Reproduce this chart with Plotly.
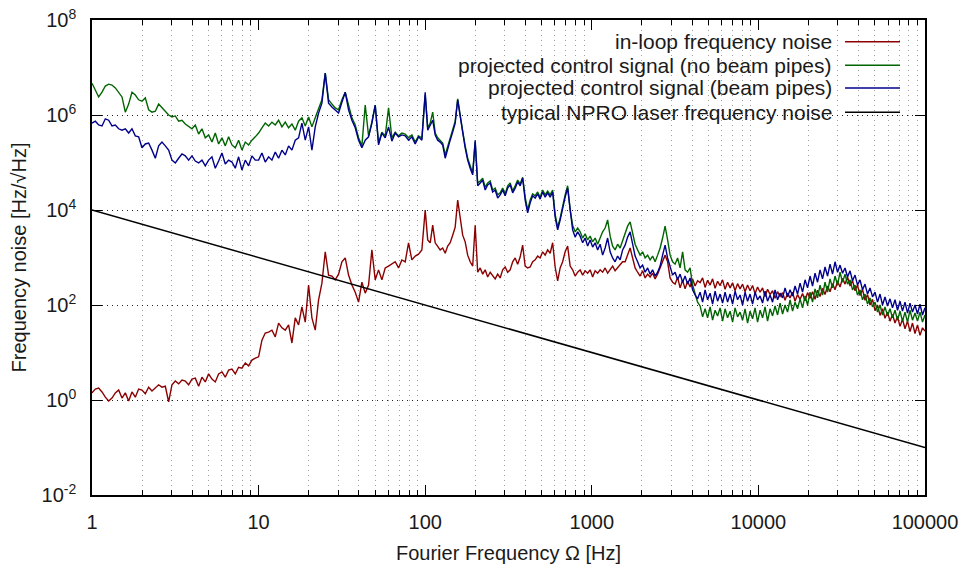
import plotly.graph_objects as go

# log10 of Fourier frequency [Hz]
freq_exp = [
    0.00, 0.02, 0.04, 0.06, 0.08, 0.10, 0.12, 0.14, 0.16, 0.18,
    0.20, 0.22, 0.24, 0.26, 0.28, 0.30, 0.32, 0.34, 0.36, 0.38,
    0.40, 0.42, 0.44, 0.46, 0.48, 0.50, 0.52, 0.54, 0.56, 0.58,
    0.60, 0.62, 0.64, 0.66, 0.68, 0.70, 0.72, 0.74, 0.76, 0.78,
    0.80, 0.82, 0.84, 0.86, 0.88, 0.90, 0.92, 0.94, 0.96, 0.98,
    1.00, 1.02, 1.04, 1.06, 1.08, 1.10, 1.12, 1.14, 1.16, 1.18,
    1.20, 1.22, 1.24, 1.26, 1.28, 1.30, 1.32, 1.34, 1.36, 1.38,
    1.40, 1.42, 1.44, 1.46, 1.48, 1.50, 1.52, 1.54, 1.56, 1.58,
    1.60, 1.62, 1.64, 1.66, 1.68, 1.70, 1.72, 1.74, 1.76, 1.78,
    1.80, 1.82, 1.84, 1.86, 1.88, 1.90, 1.92, 1.94, 1.96, 1.98,
    2.000, 2.015, 2.030, 2.045, 2.060, 2.075, 2.090, 2.105, 2.120, 2.135,
    2.150, 2.165, 2.180, 2.195, 2.210, 2.225, 2.240, 2.255, 2.270, 2.285,
    2.300, 2.315, 2.330, 2.345, 2.360, 2.375, 2.390, 2.405, 2.420, 2.435,
    2.450, 2.465, 2.480, 2.495, 2.510, 2.525, 2.540, 2.555, 2.570, 2.585,
    2.600, 2.615, 2.630, 2.645, 2.660, 2.675, 2.690, 2.705, 2.720, 2.735,
    2.750, 2.765, 2.780, 2.795, 2.810, 2.825, 2.840, 2.855, 2.870, 2.885,
    2.900, 2.915, 2.930, 2.945, 2.960, 2.975, 2.990, 3.005, 3.020, 3.035,
    3.050, 3.065, 3.080, 3.095, 3.110, 3.125, 3.140, 3.155, 3.170, 3.185,
    3.200, 3.215, 3.230, 3.245, 3.260, 3.275, 3.290, 3.305, 3.320, 3.335,
    3.350, 3.365, 3.380, 3.395, 3.410, 3.425, 3.440, 3.455, 3.470, 3.485,
    3.500, 3.515, 3.530, 3.545, 3.560, 3.575, 3.590, 3.605, 3.620, 3.635,
    3.650, 3.665, 3.680, 3.695, 3.710, 3.725, 3.740, 3.755, 3.770, 3.785,
    3.800, 3.815, 3.830, 3.845, 3.860, 3.875, 3.890, 3.905, 3.920, 3.935,
    3.950, 3.965, 3.980, 3.995, 4.010, 4.025, 4.040, 4.055, 4.070, 4.085,
    4.100, 4.115, 4.130, 4.145, 4.160, 4.175, 4.190, 4.205, 4.220, 4.235,
    4.250, 4.265, 4.280, 4.295, 4.310, 4.325, 4.340, 4.355, 4.370, 4.385,
    4.400, 4.415, 4.430, 4.445, 4.460, 4.475, 4.490, 4.505, 4.520, 4.535,
    4.550, 4.565, 4.580, 4.595, 4.610, 4.625, 4.640, 4.655, 4.670, 4.685,
    4.700, 4.715, 4.730, 4.745, 4.760, 4.775, 4.790, 4.805, 4.820, 4.835,
    4.850, 4.865, 4.880, 4.895, 4.910, 4.925, 4.940, 4.955, 4.970, 4.985,
    5.000,
]

# log10 of frequency noise [Hz/sqrt(Hz)]
inloop_exp = [
    0.15, 0.23, 0.25, 0.17, 0.06, -0.02, 0.04, 0.15, 0.21, 0.04,
    0.15, -0.02, 0.17, 0.06, 0.23, 0.21, 0.13, 0.27, 0.19, 0.25,
    0.32, 0.27, 0.29, -0.04, 0.32, 0.40, 0.34, 0.42, 0.40, 0.32,
    0.44, 0.46, 0.29, 0.48, 0.38, 0.55, 0.44, 0.38, 0.55, 0.59,
    0.48, 0.63, 0.65, 0.55, 0.69, 0.67, 0.78, 0.72, 0.84, 0.88,
    0.91, 1.26, 1.41, 1.43, 1.47, 1.33, 1.62, 1.52, 1.47, 1.58,
    1.20, 1.73, 1.58, 1.96, 1.64, 2.42, 1.73, 1.47, 2.11, 2.46,
    3.12, 2.63, 2.61, 2.53, 2.65, 2.91, 2.99, 2.63, 2.42, 2.27,
    2.06, 2.48, 2.25, 2.42, 3.16, 2.53, 2.74, 2.53, 2.78, 2.82,
    2.86, 2.91, 2.78, 2.95, 2.91, 3.31, 2.95, 3.03, 3.07, 3.16,
    4.00, 3.37, 3.31, 3.68, 3.31, 3.22, 3.16, 3.20, 3.09, 3.24,
    3.31, 3.47, 3.64, 4.21, 3.79, 3.47, 3.33, 3.05, 2.91, 2.82,
    3.68, 2.69, 2.78, 2.65, 2.74, 2.59, 2.69, 2.61, 2.55, 2.65,
    2.57, 2.74, 2.80, 2.69, 2.74, 2.91, 2.99, 2.86, 3.01, 3.26,
    2.82, 2.78, 2.80, 2.91, 2.95, 3.03, 2.99, 3.12, 3.05, 3.16,
    3.09, 3.31, 2.80, 2.51, 2.78, 2.91, 3.12, 3.24, 2.82, 2.74,
    2.61, 2.69, 2.74, 2.63, 2.72, 2.67, 2.74, 2.59, 2.72, 2.67,
    2.74, 2.69, 2.78, 2.67, 2.74, 2.82, 2.72, 2.78, 2.86, 2.91,
    2.91, 3.05, 3.20, 2.99, 2.78, 2.69, 2.61, 2.72, 2.57, 2.65,
    2.59, 2.67, 2.55, 2.65, 2.78, 2.91, 3.05, 2.91, 2.57, 2.48,
    2.44, 2.58, 2.36, 2.52, 2.34, 2.50, 2.38, 2.55, 2.40, 2.51,
    2.47, 2.57, 2.37, 2.52, 2.42, 2.55, 2.35, 2.50, 2.41, 2.53,
    2.33, 2.48, 2.36, 2.47, 2.30, 2.45, 2.34, 2.44, 2.28, 2.42,
    2.30, 2.41, 2.24, 2.38, 2.27, 2.36, 2.18, 2.33, 2.22, 2.30,
    2.14, 2.28, 2.18, 2.26, 2.10, 2.25, 2.15, 2.27, 2.08, 2.22,
    2.12, 2.24, 2.09, 2.26, 2.14, 2.28, 2.12, 2.31, 2.18, 2.35,
    2.22, 2.40, 2.28, 2.45, 2.32, 2.50, 2.38, 2.56, 2.44, 2.59,
    2.40, 2.52, 2.30, 2.42, 2.20, 2.33, 2.10, 2.22, 2.00, 2.12,
    1.88, 2.00, 1.78, 1.92, 1.72, 1.85, 1.66, 1.80, 1.62, 1.76,
    1.55, 1.70, 1.50, 1.66, 1.44, 1.62, 1.40, 1.58, 1.36, 1.52,
    1.45,
]

no_pipes_exp = [
    6.67, 6.53, 6.38, 6.48, 6.61, 6.65, 6.63, 6.57, 6.48, 6.38,
    6.06, 6.23, 6.48, 6.42, 6.32, 6.29, 6.36, 6.11, 6.06, 6.08,
    6.23, 6.15, 6.08, 6.00, 5.96, 5.98, 5.87, 5.89, 5.81, 5.75,
    5.71, 5.79, 5.60, 5.71, 5.52, 5.58, 5.43, 5.62, 5.39, 5.52,
    5.35, 5.54, 5.37, 5.31, 5.47, 5.26, 5.43, 5.37, 5.47, 5.54,
    5.62, 5.73, 5.83, 5.77, 5.85, 5.79, 5.89, 5.75, 5.85, 5.73,
    5.81, 5.68, 5.87, 5.94, 5.77, 5.96, 5.75, 5.94, 6.11, 6.32,
    6.88, 6.32, 6.23, 6.15, 6.11, 6.32, 6.48, 6.23, 5.94, 5.79,
    5.52, 5.35, 6.21, 5.56, 5.85, 6.21, 5.41, 5.64, 5.56, 6.15,
    5.52, 5.64, 5.56, 5.62, 5.60, 5.52, 5.58, 5.43, 5.56, 5.52,
    6.42, 5.73, 5.83, 6.06, 5.62, 5.52, 5.47, 5.41, 5.16, 5.35,
    5.52, 5.68, 5.87, 6.34, 5.96, 5.66, 5.35, 5.09, 4.93, 4.78,
    5.43, 4.57, 4.61, 4.67, 4.48, 4.57, 4.61, 4.42, 4.46, 4.32,
    4.36, 4.46, 4.34, 4.51, 4.57, 4.40, 4.51, 4.63, 4.55, 4.69,
    4.27, 4.00, 4.21, 4.34, 4.30, 4.38, 4.27, 4.42, 4.32, 4.40,
    4.32, 4.42, 3.91, 3.64, 3.83, 4.11, 4.32, 4.51, 4.00, 3.68,
    3.54, 3.62, 3.54, 3.41, 3.50, 3.37, 3.45, 3.33, 3.41, 3.28,
    3.41, 3.54, 3.62, 3.79, 3.45, 3.24, 3.16, 3.28, 3.20, 3.37,
    3.54, 3.66, 3.75, 3.50, 3.28, 3.16, 3.05, 3.12, 2.99, 3.05,
    2.95, 3.03, 2.91, 3.05, 3.20, 3.41, 3.66, 3.37, 3.05, 2.91,
    2.86, 2.99, 2.78, 3.12, 2.74, 2.69, 2.78, 2.42, 2.21, 2.06,
    1.98, 1.75, 1.92, 1.73, 1.96, 1.68, 1.89, 1.77, 1.94, 1.66,
    1.92, 1.73, 1.87, 1.64, 1.94, 1.75, 1.85, 1.68, 1.92, 1.62,
    1.87, 1.71, 1.94, 1.64, 1.89, 1.73, 1.96, 1.66, 1.92, 1.77,
    1.98, 1.79, 2.04, 1.81, 2.00, 1.85, 2.11, 1.87, 2.06, 1.92,
    2.13, 1.94, 2.19, 2.00, 2.27, 2.06, 2.34, 2.15, 2.42, 2.21,
    2.48, 2.27, 2.55, 2.36, 2.61, 2.42, 2.69, 2.48, 2.65, 2.44,
    2.53, 2.32, 2.42, 2.21, 2.32, 2.11, 2.23, 2.02, 2.15, 1.96,
    2.06, 1.85, 2.00, 1.79, 1.96, 1.77, 1.92, 1.73, 1.89, 1.68,
    1.87, 1.66, 1.85, 1.64, 1.89, 1.68, 1.83, 1.66, 1.85, 1.64,
    1.79,
]

pipes_exp = [
    5.83, 5.87, 5.79, 5.77, 5.92, 5.89, 5.77, 5.79, 5.71, 5.68,
    5.71, 5.62, 5.71, 5.56, 5.54, 5.31, 5.39, 5.41, 5.26, 5.09,
    5.35, 5.43, 5.35, 5.26, 5.05, 4.99, 5.09, 5.18, 5.14, 5.05,
    5.14, 5.03, 4.99, 5.05, 4.93, 5.05, 5.12, 4.88, 5.03, 5.20,
    4.97, 5.05, 5.01, 4.88, 5.12, 4.84, 5.05, 4.93, 5.14, 5.05,
    5.05, 5.20, 5.01, 5.12, 5.05, 5.22, 5.09, 5.26, 5.16, 5.35,
    5.26, 5.47, 5.52, 5.83, 5.47, 5.75, 5.26, 5.75, 6.04, 6.25,
    6.88, 6.25, 6.17, 6.11, 6.04, 6.27, 6.48, 6.11, 5.89, 5.73,
    5.47, 5.31, 5.47, 5.54, 5.83, 6.21, 5.37, 5.62, 5.52, 5.75,
    5.45, 5.62, 5.54, 5.58, 5.56, 5.47, 5.54, 5.39, 5.54, 5.47,
    6.48, 5.68, 5.79, 5.89, 5.58, 5.47, 5.43, 5.37, 5.09, 5.31,
    5.47, 5.64, 5.83, 6.32, 5.94, 5.64, 5.31, 5.05, 4.88, 4.74,
    5.47, 4.51, 4.57, 4.63, 4.42, 4.53, 4.57, 4.38, 4.42, 4.25,
    4.32, 4.42, 4.30, 4.46, 4.53, 4.36, 4.46, 4.59, 4.51, 4.67,
    4.21, 3.94, 4.15, 4.30, 4.25, 4.34, 4.23, 4.38, 4.27, 4.36,
    4.27, 4.38, 3.85, 3.58, 3.79, 4.04, 4.27, 4.46, 3.96, 3.58,
    3.43, 3.54, 3.45, 3.31, 3.41, 3.24, 3.37, 3.22, 3.31, 3.16,
    3.28, 3.05, 3.20, 3.41, 3.12, 2.99, 2.91, 3.03, 2.95, 3.16,
    3.26, 3.43, 3.54, 3.26, 3.03, 2.91, 2.78, 2.84, 2.69, 2.78,
    2.65, 2.74, 2.61, 2.69, 2.82, 3.05, 3.26, 2.99, 2.78, 2.63,
    2.69, 2.53, 2.65, 2.48, 2.61, 2.44, 2.57, 2.32, 2.21, 2.13,
    2.27, 2.06, 2.32, 2.11, 2.25, 2.02, 2.29, 2.08, 2.23, 2.04,
    2.27, 2.06, 2.23, 2.02, 2.29, 2.11, 2.21, 2.00, 2.27, 2.08,
    2.23, 2.02, 2.27, 2.11, 2.19, 2.04, 2.29, 2.08, 2.21, 2.06,
    2.32, 2.11, 2.25, 2.15, 2.36, 2.17, 2.32, 2.19, 2.40, 2.23,
    2.46, 2.27, 2.53, 2.36, 2.61, 2.40, 2.67, 2.48, 2.74, 2.55,
    2.80, 2.61, 2.86, 2.65, 2.91, 2.69, 2.84, 2.67, 2.78, 2.59,
    2.72, 2.51, 2.63, 2.42, 2.53, 2.32, 2.44, 2.23, 2.36, 2.17,
    2.27, 2.06, 2.23, 2.00, 2.17, 1.98, 2.13, 1.94, 2.11, 1.89,
    2.08, 1.87, 2.06, 1.83, 2.04, 1.85, 2.00, 1.81, 2.02, 1.79,
    1.94,
]

npro_freq = [1, 100000]
npro_noise = [1e4, 0.1]

series_names = [
    "in-loop frequency noise",
    "projected control signal (no beam pipes)",
    "projected control signal (beam pipes)",
    "typical NPRO laser frequency noise",
]
series_colors = ["#8b0000", "#006400", "#00008b", "#000000"]

x_tick_vals = [1, 10, 100, 1000, 10000, 100000]
x_tick_text = ["1", "10", "100", "1000", "10000", "100000"]
y_tick_vals = [1e-2, 1e0, 1e2, 1e4, 1e6, 1e8]
y_tick_text = ["10<sup>-2</sup>", "10<sup>0</sup>", "10<sup>2</sup>",
               "10<sup>4</sup>", "10<sup>6</sup>", "10<sup>8</sup>"]
x_minor_vals = [m * 10 ** k for k in range(5) for m in range(2, 10)]

assert len(freq_exp) == len(inloop_exp) == len(no_pipes_exp) == len(pipes_exp)

freq = [10 ** e for e in freq_exp]
fig = go.Figure()
for vals, color in zip([inloop_exp, no_pipes_exp, pipes_exp], series_colors[:3]):
    fig.add_trace(go.Scatter(x=freq, y=[10 ** v for v in vals], mode="lines",
                             line=dict(color=color, width=1.4),
                             showlegend=False, hoverinfo="skip"))
fig.add_trace(go.Scatter(x=npro_freq, y=npro_noise, mode="lines",
                         line=dict(color="#000000", width=1.5),
                         showlegend=False, hoverinfo="skip"))

FONT = "Liberation Sans, Arial, Helvetica, sans-serif"
TXT = "#1a1a1a"

# manual key (text right aligned, sample line on the right), gnuplot style
shapes = [dict(type="rect", xref="paper", yref="paper", x0=0.312, x1=0.984,
               y0=0.775, y1=0.998, fillcolor="white", line=dict(width=0),
               layer="between")]
annotations = []
key_rows = [0.954, 0.905, 0.857, 0.806]
for name, color, yy in zip(series_names, series_colors, key_rows):
    annotations.append(dict(xref="paper", yref="paper", x=0.891, y=yy,
                            text=name, showarrow=False, xanchor="right",
                            yanchor="middle",
                            font=dict(family=FONT, size=21, color=TXT)))
    shapes.append(dict(type="line", xref="paper", yref="paper", x0=0.904,
                       x1=0.970, y0=yy, y1=yy,
                       line=dict(color=color, width=1.5), layer="above"))

fig.update_layout(
    width=963, height=565,
    margin=dict(l=92, r=38, t=20, b=70, autoexpand=False),
    plot_bgcolor="white", paper_bgcolor="white",
    font=dict(family=FONT, size=20, color=TXT),
    shapes=shapes, annotations=annotations,
    xaxis=dict(
        type="log", range=[0, 5], tickmode="array", automargin=False,
        tickvals=x_tick_vals, ticktext=x_tick_text,
        ticks="inside", ticklen=10, tickwidth=1.2, tickcolor="black",
        showline=True, linecolor="black", linewidth=1.5, mirror="allticks",
        showgrid=False, zeroline=False, ticklabelstandoff=8,
        minor=dict(tickmode="array", tickvals=x_minor_vals, ticks="inside",
                   ticklen=5, tickwidth=1, tickcolor="black",
                   showgrid=True, gridcolor="#a0a0a0", gridwidth=1,
                   griddash="1px,4px"),
        title=dict(text="Fourier Frequency Ω [Hz]", standoff=14,
                   font=dict(family=FONT, size=20, color=TXT)),
    ),
    yaxis=dict(
        type="log", range=[-2, 8], tickmode="array", automargin=False,
        tickvals=y_tick_vals, ticktext=y_tick_text,
        ticks="inside", ticklen=10, tickwidth=1.2, tickcolor="black",
        showline=True, linecolor="black", linewidth=1.5, mirror="allticks",
        showgrid=True, gridcolor="#222222", gridwidth=1, griddash="1px,4px",
        zeroline=False, ticklabelstandoff=10,
        title=dict(text="Frequency noise [Hz/√Hz]", standoff=10,
                   font=dict(family=FONT, size=20, color=TXT)),
    ),
)

fig.write_html("out.html")
